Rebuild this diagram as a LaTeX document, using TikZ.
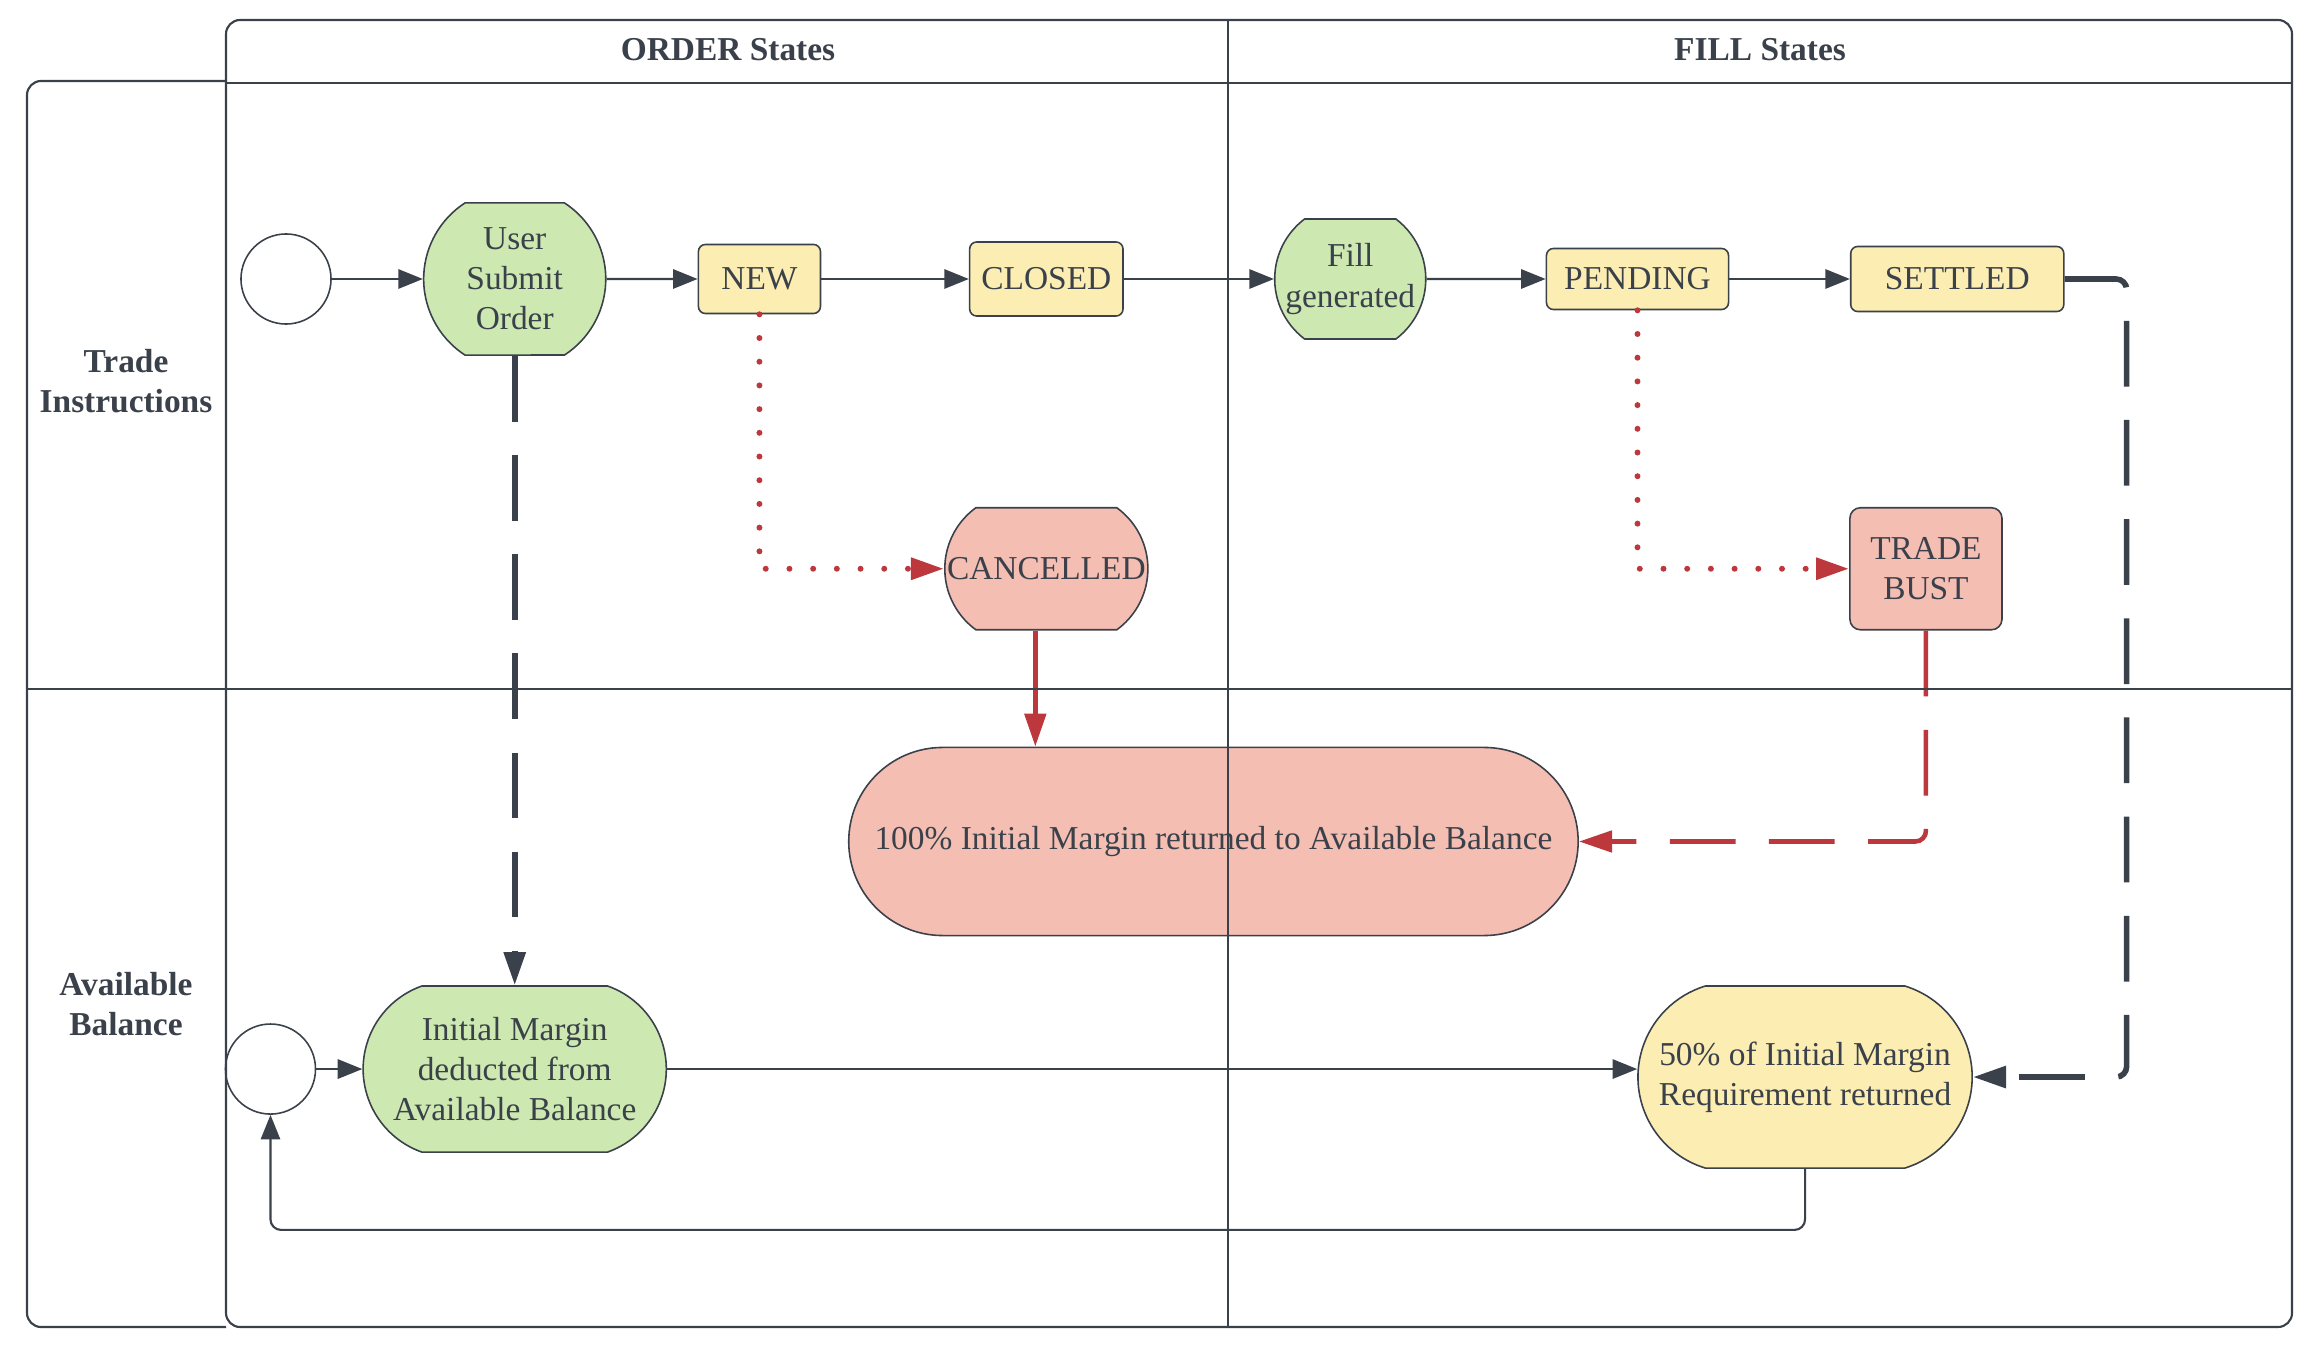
\documentclass[tikz,border=0pt]{standalone}
\usepackage{fontspec}
\setmainfont{Liberation Serif}
\usetikzlibrary{shapes.misc, arrows.meta, positioning}
\definecolor{sgreen}{HTML}{CDE8B1}
\definecolor{syellow}{HTML}{FCEDB2}
\definecolor{spink}{HTML}{F4BEB3}
\definecolor{sred}{HTML}{BC383D}
\definecolor{sgray}{HTML}{3A414A}
\tikzstyle{terminal} = [circle, minimum size=0.9cm, inner sep=0pt, draw=sgray, line width=0.45pt]
\tikzstyle{action} = [rounded rectangle, inner sep=0pt, draw=sgray, line width=0.45pt, fill=sgreen]
\tikzstyle{status} = [rectangle, rounded corners=2pt, draw=sgray, line width=0.45pt, align=center, fill=syellow]
\tikzstyle{frame} = [sgray, line width=0.6pt]
\tikzstyle{link} = [sgray, line width=0.6pt, -{Triangle[length=7pt, width=5.5pt]}]
\tikzstyle{hold} = [sgray, line width=1.6pt, dash pattern=on 18.7pt off 9.5pt, rounded corners=3pt, -{Triangle[length=9.4pt, width=6pt]}]
\tikzstyle{payback} = [hold, sred, line width=1.3pt]
\tikzstyle{revoke} = [sred, line width=1.7pt, line cap=round, dash pattern=on 0pt off 6.74pt, -{Triangle[length=9.4pt, width=6pt]}]
\tikzstyle{release} = [sred, line width=1.4pt, -{Triangle[length=9.4pt, width=6pt]}]

\begin{document}
\begin{tikzpicture}[x=0.01cm, y=0.01cm, font=\fontsize{9.5}{11.4}\selectfont, text=sgray]
  \useasboundingbox (0,0) rectangle (2316,-1364);
  \node (start) [terminal] at (286,-279) {};
  \node (submit) [action, right=0.91cm of start, minimum width=1.82cm, minimum height=1.52cm, rounded rectangle arc length=114, label={[align=center]center:User\\Submit\\Order}] {};
  \node (new) [status, right=0.91cm of submit, minimum width=1.22cm, minimum height=0.69cm] {NEW};
  \node (closed) [status, right=1.475cm of new, minimum width=1.52cm, minimum height=0.74cm] {CLOSED};
  \node (fill) [action, right=1.5cm of closed, minimum width=1.51cm, minimum height=1.2cm, rounded rectangle arc length=106, label={[align=center]center:Fill\\generated}] {};
  \node (pending) [status, right=1.19cm of fill, minimum width=1.82cm, minimum height=0.61cm] {PENDING};
  \node (settled) [status, right=1.205cm of pending, minimum width=2.13cm, minimum height=0.65cm] {SETTLED};
  \node (cancel) [action, fill=spink, below=1.9cm of closed, minimum width=2.03cm, minimum height=1.22cm, rounded rectangle arc length=108, label=center:CANCELLED] {};
  \node (bust) [status, fill=spink, rounded corners=3pt, right=7.0cm of cancel, minimum width=1.52cm, minimum height=1.22cm] {TRADE\\BUST};
  \node (refund) [action, fill=spink, below=1.16cm of cancel, xshift=1.67cm, minimum width=7.29cm, minimum height=1.88cm, rounded rectangle arc length=180, label=center:100\% Initial Margin returned to Available Balance] {};
  \node (deduct) [action, below=6.29cm of submit, minimum width=3.03cm, minimum height=1.66cm, rounded rectangle arc length=141, label={[align=center]center:Initial Margin\\deducted from\\Available Balance}] {};
  \node (start2) [terminal, left=0.46cm of deduct] {};
  \node (half) [action, fill=syellow, right=9.695cm of deduct, yshift=-0.08cm, minimum width=3.34cm, minimum height=1.82cm, rounded rectangle arc length=146, label={[align=center]center:50\% of Initial Margin\\Requirement returned}] {};
  \draw [link] (start) -- (submit);
  \draw [link] (submit) -- (new);
  \draw [link] (new) -- (closed);
  \draw [link] (closed) -- (fill);
  \draw [link] (fill) -- (pending);
  \draw [link] (pending) -- (settled);
  \draw [revoke] (new.south) |- (cancel.west);
  \draw [revoke] (pending.south) |- (bust.west);
  \draw [release] ([xshift=-0.11cm]cancel.south) -- ([xshift=-0.11cm]cancel.south |- refund.north);
  \draw [payback] (bust.south) |- (refund.east);
  \draw [hold] (submit) -- (deduct);
  \draw [hold] (settled.east) -- ++(0.62cm,0) |- (half.east);
  \draw [link] (start2.east) -- (start2.east -| deduct.west);
  \draw [link] (deduct.east) -- (deduct.east -| half.west);
  \draw [link, rounded corners=3pt] (half.south) -- ++(0,-0.61cm) -| (start2.south);
  \draw [frame, rounded corners=4pt] (226,-20) rectangle (2292,-1327);
  \draw [frame, rounded corners=4pt] (226,-81) -- (27,-81) -- (27,-1327) -- (226,-1327);
  \draw [frame] (226,-83) -- (2292,-83);
  \draw [frame] (1228,-20) -- (1228,-1327);
  \draw [frame] (27,-689) -- (2292,-689);
  \node (ordhead) at (728,-50) {\textbf{ORDER States}};
  \node (fillhead) at (1760,-50) {\textbf{FILL States}};
  \node (tradelane) [align=center] at (126,-381) {\textbf{Trade}\\\textbf{Instructions}};
  \node (balancelane) [align=center] at (126,-1004) {\textbf{Available}\\\textbf{Balance}};
\end{tikzpicture}
\end{document}
